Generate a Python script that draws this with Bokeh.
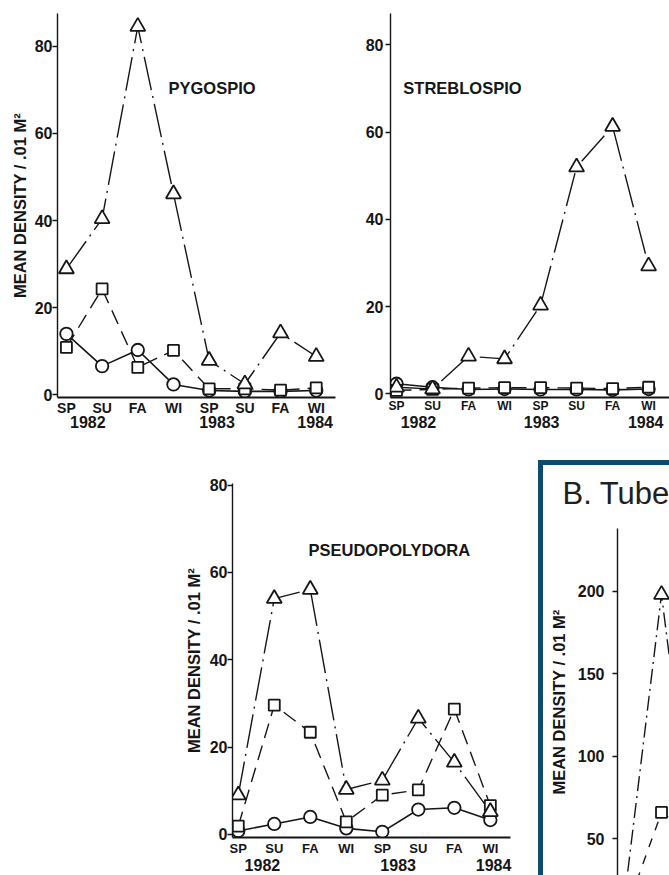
from bokeh.plotting import figure
from bokeh.layouts import column, row
from bokeh.models import Spacer, LinearAxis, FixedTicker, Range1d, Label
from bokeh.embed import file_html
from bokeh.resources import INLINE

# ---------------- data ----------------
seasons = ["SP", "SU", "FA", "WI", "SP", "SU", "FA", "WI"]
season_x = [0, 1, 2, 3, 4, 5, 6, 7]
years = ["1982", "1983", "1984"]
y_ticks = [0, 20, 40, 60, 80]

pygo_tri = [28.9, 40.4, 84.5, 46.1, 7.9, 2.5, 14.2, 8.8]
pygo_sq = [10.9, 24.3, 6.3, 10.2, 1.4, 1.4, 1.1, 1.6]
pygo_circ = [14.0, 6.6, 10.3, 2.4, 1.0, 0.8, 0.8, 1.0]

streb_tri = [1.5, 1.1, 8.6, 8.0, 20.3, 52.0, 61.3, 29.3]
streb_sq = [0.8, 1.0, 1.3, 1.4, 1.4, 1.3, 1.2, 1.5]
streb_circ = [2.3, 1.5, 1.0, 1.1, 1.0, 1.0, 0.9, 1.1]

pseudo_tri = [9.0, 54.0, 56.1, 10.3, 12.4, 26.6, 16.5, 5.2]
pseudo_sq = [1.9, 29.6, 23.4, 2.9, 9.0, 10.2, 28.7, 6.6]
pseudo_circ = [0.8, 2.4, 4.0, 1.4, 0.6, 5.7, 6.1, 3.3]

tube_x = [0, 1, 2]
tube_tri = [14, 198, 20]
tube_sq = [4, 66, 50]
tube_ticks = [50, 100, 150, 200]

YLABEL = "MEAN DENSITY / .01 M\u00b2"
FONT = "Liberation Sans"
INK = "#161616"
BLUE = "#0c4b70"

TRI_DASH = "34 6 2 6"
SQ_DASH = "15 8"


def style_yaxis(ax, ticks, label=None, tick_standoff=0, label_standoff=5):
    ax.ticker = FixedTicker(ticks=ticks)
    ax.minor_tick_line_color = None
    ax.major_tick_in = 0
    ax.major_tick_out = 5
    ax.major_tick_line_width = 1.3
    ax.major_tick_line_color = INK
    ax.axis_line_color = INK
    ax.axis_line_width = 1.4
    ax.major_label_text_font = FONT
    ax.major_label_text_font_style = "bold"
    ax.major_label_text_font_size = "16px"
    ax.major_label_text_color = INK
    ax.major_label_standoff = tick_standoff
    if label:
        ax.axis_label = label
        ax.axis_label_text_font = FONT
        ax.axis_label_text_font_style = "bold"
        ax.axis_label_text_font_size = "16.5px"
        ax.axis_label_text_color = INK
        ax.axis_label_standoff = label_standoff


def panel(width, height, xr, yr, mb, cat_size, cat_standoff, year_pos,
          year_standoff, ylabel=None, tick_standoff=0, label_standoff=5):
    p = figure(width=width, height=height, x_range=Range1d(*xr),
               y_range=Range1d(*yr), output_backend="svg",
               toolbar_location=None, min_border=0)
    p.min_border_left, p.min_border_right, p.min_border_top, p.min_border_bottom = mb
    p.grid.visible = False
    p.outline_line_color = None
    p.background_fill_color = "white"
    p.border_fill_color = "white"

    xa = p.xaxis[0]
    xa.ticker = FixedTicker(ticks=season_x)
    xa.major_label_overrides = {x: s for x, s in zip(season_x, seasons)}
    xa.major_tick_line_color = None
    xa.minor_tick_line_color = None
    xa.major_tick_out = 0
    xa.major_tick_in = 0
    xa.axis_line_color = INK
    xa.axis_line_width = 2.2
    xa.major_label_text_font = FONT
    xa.major_label_text_font_style = "bold"
    xa.major_label_text_font_size = cat_size
    xa.major_label_text_color = INK
    xa.major_label_standoff = cat_standoff

    ya = LinearAxis(ticker=FixedTicker(ticks=year_pos),
                    major_label_overrides={x: y for x, y in zip(year_pos, years)},
                    axis_line_color=None, major_tick_line_color=None,
                    minor_tick_line_color=None, major_tick_out=0, major_tick_in=0,
                    major_label_standoff=year_standoff,
                    major_label_text_font=FONT, major_label_text_font_style="bold",
                    major_label_text_font_size="16px", major_label_text_color=INK)
    p.add_layout(ya, "below")

    style_yaxis(p.yaxis[0], y_ticks, ylabel, tick_standoff, label_standoff)
    return p


def draw_series(p, xs, tri, sq, circ, tri_dash=TRI_DASH, sq_dash=SQ_DASH,
                msize=1.0):
    p.line(xs, tri, line_color=INK, line_width=1.4, line_dash=tri_dash)
    p.line(xs, sq, line_color=INK, line_width=1.4, line_dash=sq_dash)
    if circ is not None:
        p.line(xs, circ, line_color=INK, line_width=1.6)
        p.scatter(xs, circ, marker="circle", size=12.5 * msize, fill_color="white",
                  line_color=INK, line_width=1.8)
    p.scatter(xs, sq, marker="square", size=11 * msize, fill_color="white",
              line_color=INK, line_width=1.8)
    p.scatter(xs, tri, marker="triangle", size=15 * msize, fill_color="white",
              line_color=INK, line_width=1.8)


def title_label(p, x, y, text):
    p.add_layout(Label(x=x, y=y, text=text, text_font=FONT,
                       text_font_style="bold", text_font_size="16.5px",
                       text_color=INK, text_baseline="middle", text_align="left"))


# ---------------- PYGOSPIO ----------------
p1 = panel(340, 430, (-0.25, 7.54), (-0.6, 87.5), (57, 5, 13, 33), "14px", 2,
           [0.6, 4.22, 6.97], -3, ylabel=YLABEL, tick_standoff=0, label_standoff=3)
draw_series(p1, season_x, pygo_tri, pygo_sq, pygo_circ)
title_label(p1, 2.86, 70.5, "PYGOSPIO")

# ---------------- STREBLOSPIO ----------------
# (frame shares top/bottom with the PYGOSPIO frame in the row layout)
p2 = panel(329, 430, (-0.167, 7.58), (-0.85, 87.2), (50, 0, 13, 33), "12px", 1,
           [0.61, 4.03, 6.92], 0, ylabel=None, tick_standoff=2)
draw_series(p2, season_x, streb_tri, streb_sq, streb_circ)
title_label(p2, 0.19, 70.2, "STREBLOSPIO")

# ---------------- PSEUDOPOLYDORA ----------------
p3 = panel(358, 445, (-0.16, 7.56), (-0.7, 80.36), (52, 28, 53, 38), "13px", 3,
           [0.67, 4.44, 7.09], 0, ylabel=YLABEL, tick_standoff=0, label_standoff=4)
draw_series(p3, season_x, pseudo_tri, pseudo_sq, pseudo_circ)
title_label(p3, 1.95, 65.1, "PSEUDOPOLYDORA")

# ---------------- B. Tube (cropped panel) ----------------
p4 = figure(width=126, height=410, x_range=Range1d(-2.189, 1.216),
            y_range=Range1d(27.8, 276.2), output_backend="svg",
            toolbar_location=None, x_axis_location=None, min_border=0)
p4.grid.visible = False
p4.outline_line_color = None
ax4 = p4.yaxis[0]
style_yaxis(ax4, tube_ticks, YLABEL, tick_standoff=8, label_standoff=7)
ax4.fixed_location = -0.189
ax4.bounds = (27.8, 238.0)
draw_series(p4, tube_x, tube_tri, tube_sq, None, tri_dash="15 5 2 5", sq_dash="9 9")
p4.add_layout(Label(x=-1.676, y=259.2, text="B. Tube", text_font=FONT,
                    text_font_style="normal", text_font_size="31px",
                    text_color="#231f20", text_baseline="middle",
                    text_align="left"))

blue_left = Spacer(width=5, height=415, styles={"background-color": BLUE})
blue_top = Spacer(width=126, height=5, styles={"background-color": BLUE})
panel_b = column(Spacer(width=131, height=30),
                 row(blue_left, column(blue_top, p4)))

layout = column(
    row(p1, p2),
    row(Spacer(width=180, height=445), p3, panel_b),
)

open("out.html", "w").write(file_html(layout, INLINE))
